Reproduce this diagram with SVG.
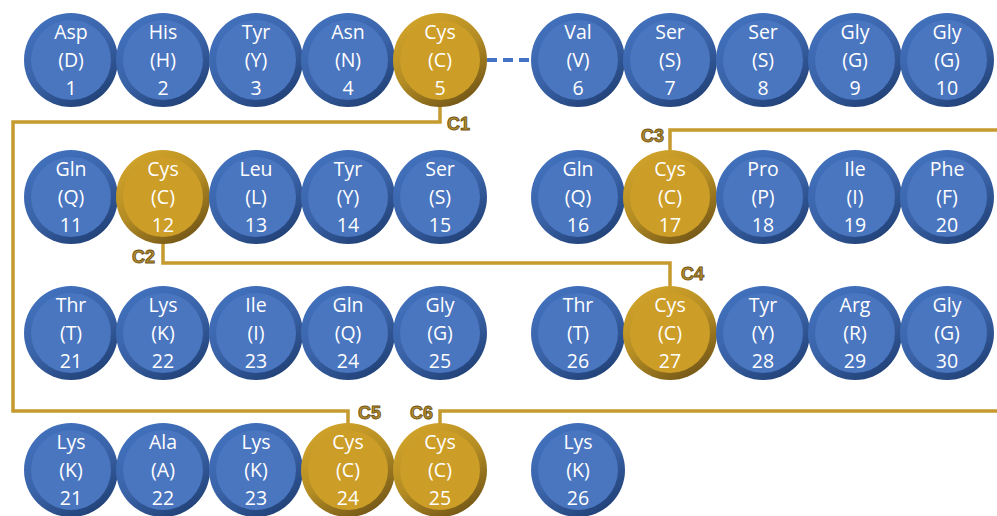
<svg xmlns="http://www.w3.org/2000/svg" width="997" height="516" viewBox="0 0 997 516">
<defs>
<linearGradient id="gb" x1="0.2" y1="0" x2="0.8" y2="1">
<stop offset="0" stop-color="#4272BF"/>
<stop offset="0.5" stop-color="#3A63A8"/>
<stop offset="1" stop-color="#1F3E72"/>
</linearGradient>
<linearGradient id="gg" x1="0.2" y1="0" x2="0.8" y2="1">
<stop offset="0" stop-color="#D4A52A"/>
<stop offset="0.5" stop-color="#B38C24"/>
<stop offset="1" stop-color="#6E5216"/>
</linearGradient>
<g id="bc"><circle r="47" fill="url(#gb)"/><circle r="40" fill="#4A75BF"/></g>
<g id="cc"><circle r="47" fill="url(#gg)"/><circle r="40" fill="#CC9D27"/></g>
</defs>
<style>
text{font-family:"Open Sans","Noto Sans","Liberation Sans",sans-serif;font-size:19.5px;fill:#FFFFFF;text-anchor:middle}
.lab{font-family:"Liberation Sans","Open Sans",sans-serif;font-weight:bold;font-size:18px;fill:#B58D2C;stroke:#6E5418;stroke-width:0.9;text-anchor:start}
.bond{fill:none;stroke:#C59A2E;stroke-width:3.5}
</style>
<g id="connectors">
<path class="bond" d="M440,104 V122 H13 V411 H348 V424"/>
<path class="bond" d="M163,241 V263 H670 V287"/>
<path class="bond" d="M670,151 V130 H997"/>
<path class="bond" d="M440,424 V411 H997"/>
<path d="M487,60 H531" fill="none" stroke="#4472C4" stroke-width="4" stroke-dasharray="10,6"/>
<text class="lab" x="447" y="130">C1</text>
<text class="lab" x="132" y="263">C2</text>
<text class="lab" x="641" y="142">C3</text>
<text class="lab" x="681" y="280">C4</text>
<text class="lab" x="358" y="419">C5</text>
<text class="lab" x="410" y="419">C6</text>
</g>
<g id="n1" transform="translate(71,60)"><use href="#bc"/><text y="-21">Asp</text><text y="7">(D)</text><text y="35">1</text></g>
<g id="n2" transform="translate(163,60)"><use href="#bc"/><text y="-21">His</text><text y="7">(H)</text><text y="35">2</text></g>
<g id="n3" transform="translate(256,60)"><use href="#bc"/><text y="-21">Tyr</text><text y="7">(Y)</text><text y="35">3</text></g>
<g id="n4" transform="translate(348,60)"><use href="#bc"/><text y="-21">Asn</text><text y="7">(N)</text><text y="35">4</text></g>
<g id="n5" transform="translate(440,60)"><use href="#cc"/><text y="-21">Cys</text><text y="7">(C)</text><text y="35">5</text></g>
<g id="n6" transform="translate(578,60)"><use href="#bc"/><text y="-21">Val</text><text y="7">(V)</text><text y="35">6</text></g>
<g id="n7" transform="translate(670,60)"><use href="#bc"/><text y="-21">Ser</text><text y="7">(S)</text><text y="35">7</text></g>
<g id="n8" transform="translate(763,60)"><use href="#bc"/><text y="-21">Ser</text><text y="7">(S)</text><text y="35">8</text></g>
<g id="n9" transform="translate(855,60)"><use href="#bc"/><text y="-21">Gly</text><text y="7">(G)</text><text y="35">9</text></g>
<g id="n10" transform="translate(947,60)"><use href="#bc"/><text y="-21">Gly</text><text y="7">(G)</text><text y="35">10</text></g>

<g id="n11" transform="translate(71,197)"><use href="#bc"/><text y="-21">Gln</text><text y="7">(Q)</text><text y="35">11</text></g>
<g id="n12" transform="translate(163,197)"><use href="#cc"/><text y="-21">Cys</text><text y="7">(C)</text><text y="35">12</text></g>
<g id="n13" transform="translate(256,197)"><use href="#bc"/><text y="-21">Leu</text><text y="7">(L)</text><text y="35">13</text></g>
<g id="n14" transform="translate(348,197)"><use href="#bc"/><text y="-21">Tyr</text><text y="7">(Y)</text><text y="35">14</text></g>
<g id="n15" transform="translate(440,197)"><use href="#bc"/><text y="-21">Ser</text><text y="7">(S)</text><text y="35">15</text></g>
<g id="n16" transform="translate(578,197)"><use href="#bc"/><text y="-21">Gln</text><text y="7">(Q)</text><text y="35">16</text></g>
<g id="n17" transform="translate(670,197)"><use href="#cc"/><text y="-21">Cys</text><text y="7">(C)</text><text y="35">17</text></g>
<g id="n18" transform="translate(763,197)"><use href="#bc"/><text y="-21">Pro</text><text y="7">(P)</text><text y="35">18</text></g>
<g id="n19" transform="translate(855,197)"><use href="#bc"/><text y="-21">Ile</text><text y="7">(I)</text><text y="35">19</text></g>
<g id="n20" transform="translate(947,197)"><use href="#bc"/><text y="-21">Phe</text><text y="7">(F)</text><text y="35">20</text></g>

<g id="n21" transform="translate(71,333)"><use href="#bc"/><text y="-21">Thr</text><text y="7">(T)</text><text y="35">21</text></g>
<g id="n22" transform="translate(163,333)"><use href="#bc"/><text y="-21">Lys</text><text y="7">(K)</text><text y="35">22</text></g>
<g id="n23" transform="translate(256,333)"><use href="#bc"/><text y="-21">Ile</text><text y="7">(I)</text><text y="35">23</text></g>
<g id="n24" transform="translate(348,333)"><use href="#bc"/><text y="-21">Gln</text><text y="7">(Q)</text><text y="35">24</text></g>
<g id="n25" transform="translate(440,333)"><use href="#bc"/><text y="-21">Gly</text><text y="7">(G)</text><text y="35">25</text></g>
<g id="n26" transform="translate(578,333)"><use href="#bc"/><text y="-21">Thr</text><text y="7">(T)</text><text y="35">26</text></g>
<g id="n27" transform="translate(670,333)"><use href="#cc"/><text y="-21">Cys</text><text y="7">(C)</text><text y="35">27</text></g>
<g id="n28" transform="translate(763,333)"><use href="#bc"/><text y="-21">Tyr</text><text y="7">(Y)</text><text y="35">28</text></g>
<g id="n29" transform="translate(855,333)"><use href="#bc"/><text y="-21">Arg</text><text y="7">(R)</text><text y="35">29</text></g>
<g id="n30" transform="translate(947,333)"><use href="#bc"/><text y="-21">Gly</text><text y="7">(G)</text><text y="35">30</text></g>

<g id="n31" transform="translate(71,470)"><use href="#bc"/><text y="-21">Lys</text><text y="7">(K)</text><text y="35">21</text></g>
<g id="n32" transform="translate(163,470)"><use href="#bc"/><text y="-21">Ala</text><text y="7">(A)</text><text y="35">22</text></g>
<g id="n33" transform="translate(256,470)"><use href="#bc"/><text y="-21">Lys</text><text y="7">(K)</text><text y="35">23</text></g>
<g id="n34" transform="translate(348,470)"><use href="#cc"/><text y="-21">Cys</text><text y="7">(C)</text><text y="35">24</text></g>
<g id="n35" transform="translate(440,470)"><use href="#cc"/><text y="-21">Cys</text><text y="7">(C)</text><text y="35">25</text></g>
<g id="n36" transform="translate(578,470)"><use href="#bc"/><text y="-21">Lys</text><text y="7">(K)</text><text y="35">26</text></g>
</svg>
